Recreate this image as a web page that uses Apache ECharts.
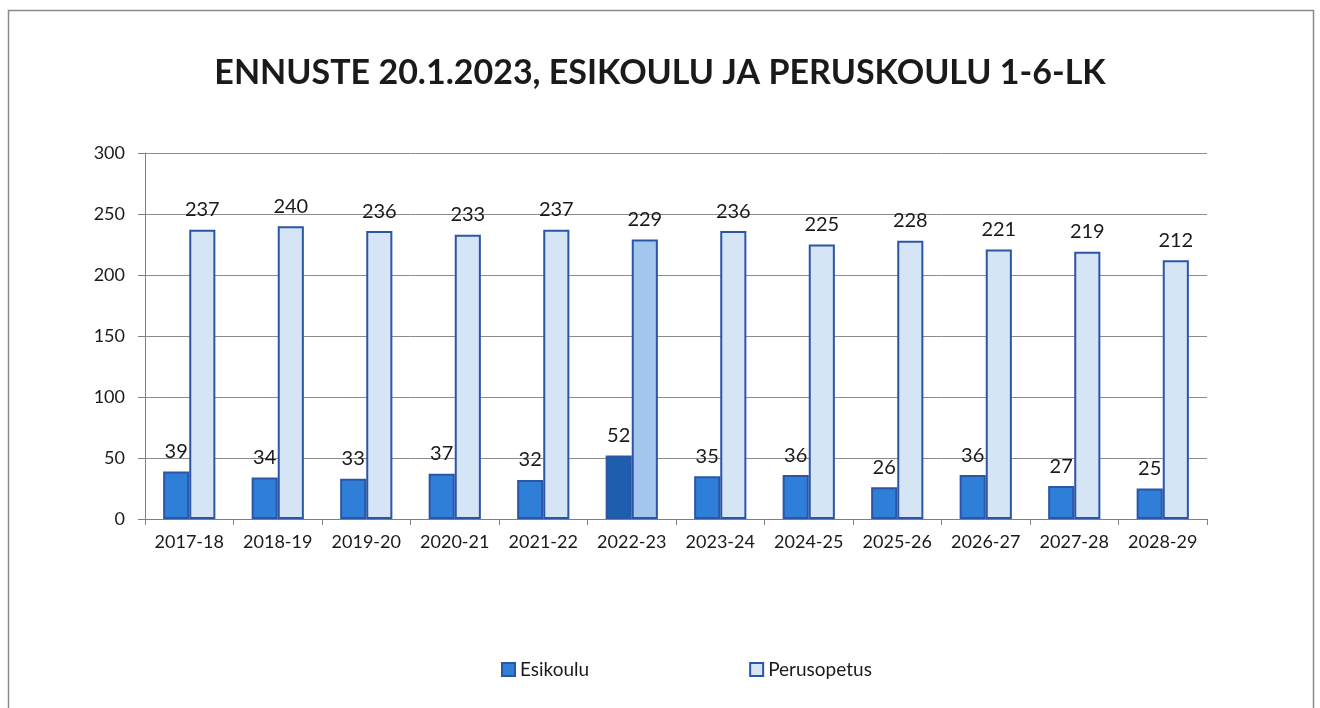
<!DOCTYPE html>
<html>
<head>
<meta charset="utf-8">
<script src="https://cdn.jsdelivr.net/npm/echarts@6/dist/echarts.min.js"></script>
<style>
  html, body { margin: 0; padding: 0; background: #fff; }
  #chart { width: 1320px; height: 708px; }
</style>
</head>
<body>
<div id="chart"></div>
<script>
const years = ['2017-18', '2018-19', '2019-20', '2020-21', '2021-22', '2022-23',
  '2023-24', '2024-25', '2025-26', '2026-27', '2027-28', '2028-29']
const esikoulu = [39, 34, 33, 37, 32, 52, 35, 36, 26, 36, 27, 25]
const perusopetus = [237, 240, 236, 233, 237, 229, 236, 225, 228, 221, 219, 212]
// vuosi joka on korostettu kuvassa
const highlightYear = '2022-23'

const font = 'Lato, "Open Sans", sans-serif'
const edge = '#2b56a6'

// korostettu pylväs saa oman värin
const toItems = (values, normal, strong) =>
  values.map((v, i) => ({
    value: v,
    itemStyle: { color: years[i] === highlightYear ? strong : normal }
  }))

const myChart = echarts.init(document.getElementById('chart'))
myChart.setOption({
  animation: false,
  textStyle: { fontFamily: font },
  title: {
    text: 'ENNUSTE 20.1.2023, ESIKOULU JA PERUSKOULU 1-6-LK',
    left: 'center',
    top: 51,
    textStyle: { fontSize: 34, fontWeight: 'bold', color: '#1a1a1a', fontFamily: font }
  },
  graphic: [
    {
      type: 'rect',
      shape: { x: 8.5, y: 10.5, width: 1305, height: 720 },
      style: { fill: 'none', stroke: '#8a8a8a', lineWidth: 1.5 },
      silent: true
    }
  ],
  legend: {
    top: 655,
    left: 496,
    itemGap: 160,
    itemWidth: 13,
    itemHeight: 13,
    icon: 'rect',
    textStyle: { fontSize: 19, color: '#1a1a1a', fontFamily: font },
    data: ['Esikoulu', 'Perusopetus']
  },
  grid: { left: 145, right: 113, top: 153, bottom: 189 },
  xAxis: {
    type: 'category',
    data: years,
    axisLine: { lineStyle: { color: '#7f7f7f' } },
    axisTick: { show: true, length: 6, lineStyle: { color: '#7f7f7f' } },
    axisLabel: { fontSize: 18, color: '#1a1a1a', margin: 14, interval: 0 }
  },
  yAxis: {
    type: 'value',
    min: 0,
    max: 300,
    interval: 50,
    axisLine: { show: true, lineStyle: { color: '#7f7f7f' } },
    axisTick: { show: true, length: 7, lineStyle: { color: '#7f7f7f' } },
    axisLabel: { fontSize: 18, color: '#1a1a1a', margin: 20 },
    splitLine: { lineStyle: { color: '#8c8c8c', width: 1 } }
  },
  series: [
    {
      name: 'Esikoulu',
      type: 'bar',
      barGap: '0%',
      barCategoryGap: '41%',
      itemStyle: { color: '#2f7fd8', borderColor: edge, borderWidth: 2 },
      label: { show: true, position: 'top', fontSize: 20, color: '#1a1a1a', distance: 10 },
      data: toItems(esikoulu, '#2f7fd8', '#1d5fae')
    },
    {
      name: 'Perusopetus',
      type: 'bar',
      itemStyle: { color: '#d6e5f6', borderColor: edge, borderWidth: 2 },
      label: { show: true, position: 'top', fontSize: 20, color: '#1a1a1a', distance: 10 },
      data: toItems(perusopetus, '#d6e5f6', '#a3c6ee')
    }
  ]
})
</script>
</body>
</html>
